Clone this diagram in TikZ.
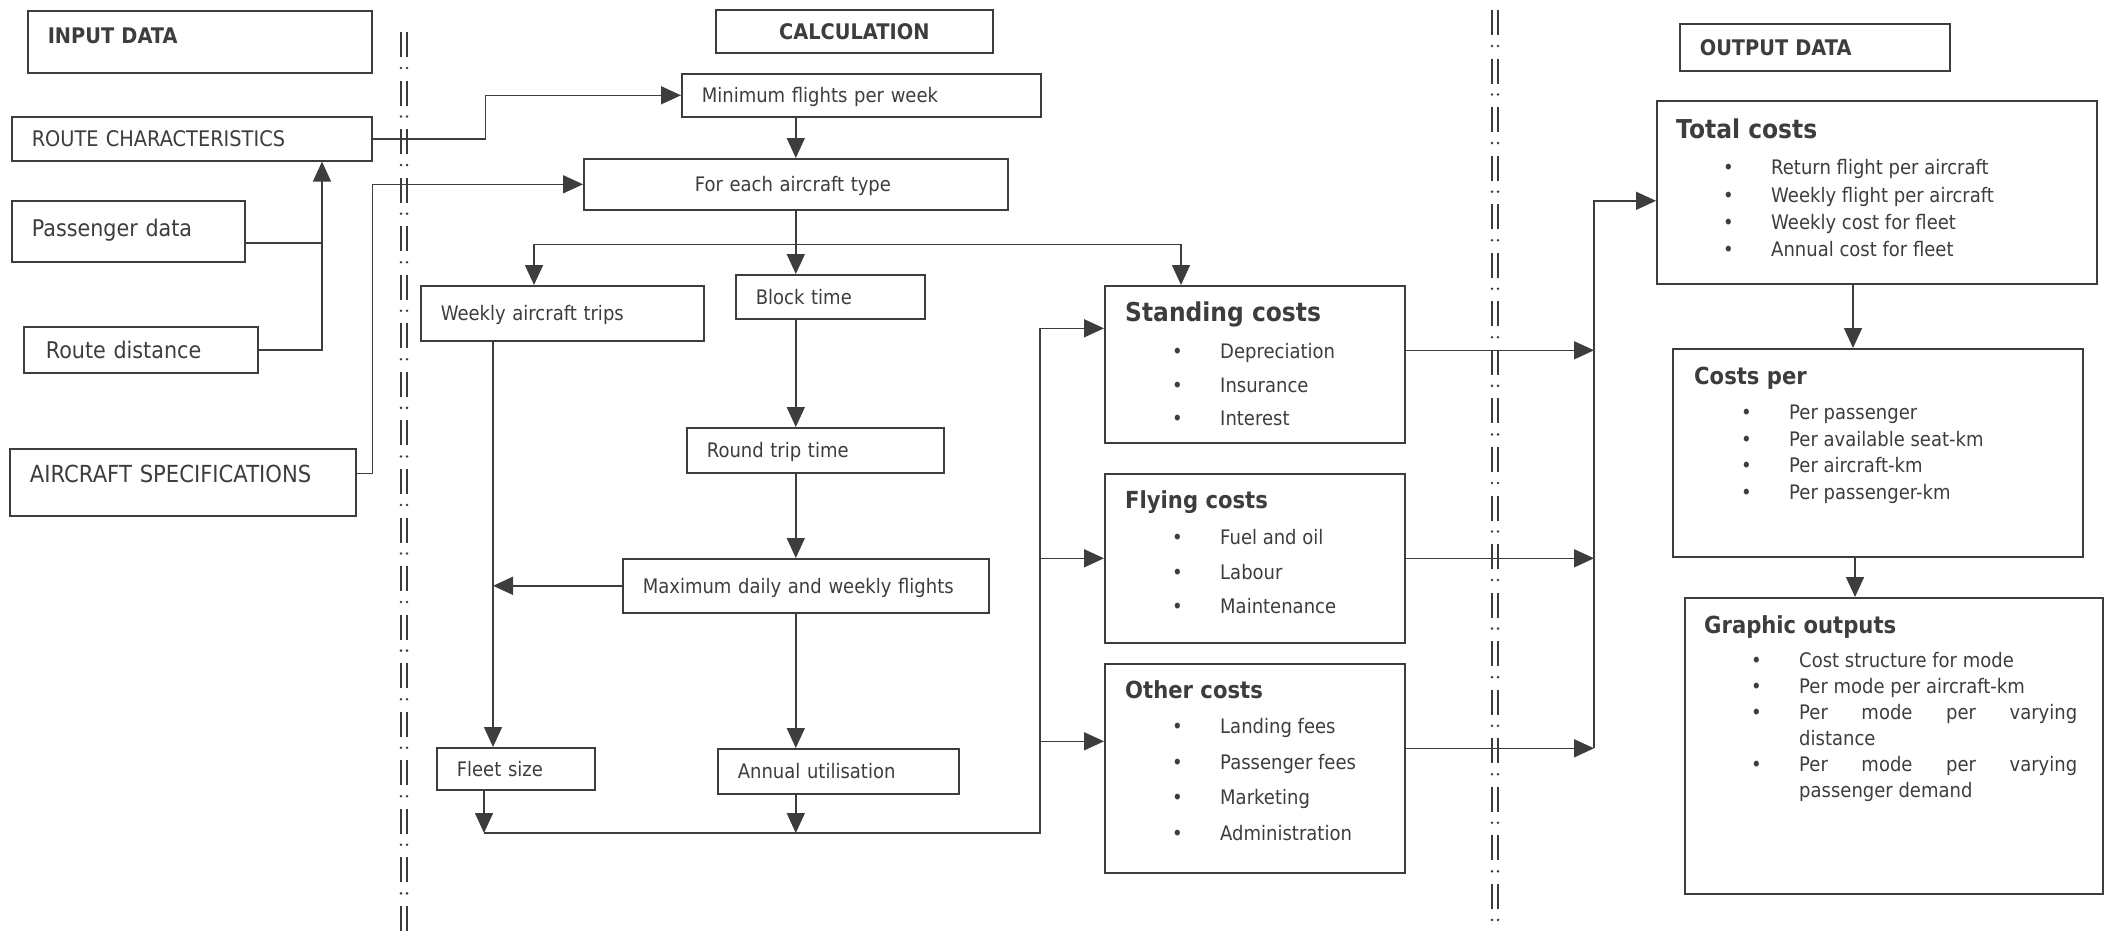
\documentclass[tikz,border=0pt]{standalone}
\usepackage{fontspec}
\setmainfont{DejaVu Sans}[FakeStretch=0.9]
\usetikzlibrary{arrows.meta}
\definecolor{ink}{gray}{0.24}
\newcommand{\fBody}{\fontsize{20}{24}\selectfont}
\newcommand{\fCaps}{\fontsize{21.5}{26}\selectfont}
\newcommand{\fBig}{\fontsize{23}{28}\selectfont}
\newcommand{\fHead}{\fontsize{21.5}{26}\selectfont\bfseries}
\newcommand{\fTitle}{\fontsize{26}{30}\selectfont\bfseries}
\newcommand{\fSub}{\fontsize{23.5}{28}\selectfont\bfseries}
\newcommand{\fList}[1]{\fontsize{20}{#1}\selectfont}
\newcommand{\itm}{\hspace*{47pt}\makebox[48pt][l]{\textbullet}}

\begin{document}
\begin{tikzpicture}[x=1pt,y=-1pt,
  box/.style={draw=ink,line width=1.6pt,anchor=north west,inner xsep=20pt,inner ysep=0pt,
    align=left,text depth=0pt,text=ink,font=\fBody},
  panel/.style={draw=ink,line width=1.6pt,anchor=north west,inner sep=0pt},
  list/.style={anchor=north west,inner sep=0pt,align=left,text=ink},
  arr/.style={draw=ink,line width=1.6pt,-{Triangle[length=20pt,width=18pt]}},
  link/.style={draw=ink,line width=1.6pt},
  bar/.style={draw=ink,line width=1.3pt}]
\useasboundingbox (0,0) rectangle (2106,932);

\foreach \k in {0,...,18}{
  \draw[bar] (401,{32+48.55*\k}) -- ++(0,25) (407,{32+48.55*\k}) -- ++(0,25);
  \draw[bar] (1492,{10+48.55*\k}) -- ++(0,25) (1498,{10+48.55*\k}) -- ++(0,25);
  \fill[ink] (1492,{46+48.55*\k}) circle[radius=1.4pt] (1498,{46+48.55*\k}) circle[radius=1.4pt];
}
\foreach \k in {0,...,17}
  \fill[ink] (401,{68+48.55*\k}) circle[radius=1.4pt] (407,{68+48.55*\k}) circle[radius=1.4pt];

\node[box,text width=304pt,minimum height=62pt,text depth=12pt,font=\fHead] (ind) at (27,10) {INPUT DATA};
\node[box,text width=320pt,minimum height=44pt,font=\fCaps] (rc) at (11,116) {ROUTE CHARACTERISTICS};
\node[box,text width=193pt,minimum height=61pt,text depth=7pt,font=\fBig] (pd) at (11,200) {Passenger data};
\node[box,text width=190pt,minimum height=46pt,inner xsep=22pt,font=\fBig] (rd) at (23,326) {Route distance};
\node[box,text width=306pt,minimum height=67pt,text depth=17pt,font=\fontsize{23.5}{28}\selectfont] (as) at (9,448) {AIRCRAFT SPECIFICATIONS};

\node[box,text width=237pt,minimum height=43pt,align=center,font=\fHead] (calc) at (715,9) {CALCULATION};
\node[box,text width=319pt,minimum height=43pt] (mf) at (681,73) {Minimum flights per week};
\node[box,text width=384pt,minimum height=51pt] (fe) at (583,158) {\hspace*{91pt}For each aircraft type};
\node[box,text width=243pt,minimum height=55pt] (wt) at (420,285) {Weekly aircraft trips};
\node[box,text width=149pt,minimum height=44pt] (bt) at (735,274) {Block time};
\node[box,text width=217pt,minimum height=45pt] (rt) at (686,427) {Round trip time};
\node[box,text width=326pt,minimum height=54pt] (md) at (622,558) {Maximum daily and weekly flights};
\node[box,text width=118pt,minimum height=42pt] (fs) at (436,747) {Fleet size};
\node[box,text width=201pt,minimum height=45pt] (au) at (717,748) {Annual utilisation};

\node[panel,minimum width=300pt,minimum height=157pt] (sc) at (1104,285) {};
\node[panel,minimum width=300pt,minimum height=169pt] (fc) at (1104,473) {};
\node[panel,minimum width=300pt,minimum height=209pt] (oc) at (1104,663) {};
\node[list,font={\fList{33.5}}] (sct) at (1125,302) {{\fTitle Standing costs}\\[3.5pt]\itm Depreciation\\\itm Insurance\\\itm Interest};
\node[list,font={\fList{34.5}}] (fct) at (1125,490) {{\fSub Flying costs}\\[2pt]\itm Fuel and oil\\\itm Labour\\\itm Maintenance};
\node[list,font={\fList{35.5}}] (oct) at (1125,680) {{\fSub Other costs}\\\itm Landing fees\\\itm Passenger fees\\\itm Marketing\\\itm Administration};

\node[box,text width=230pt,minimum height=47pt,font=\fHead] (outd) at (1679,23) {OUTPUT DATA};
\node[panel,minimum width=440pt,minimum height=183pt] (tc) at (1656,100) {};
\node[panel,minimum width=410pt,minimum height=208pt] (cp) at (1672,348) {};
\node[panel,minimum width=418pt,minimum height=296pt] (go) at (1684,597) {};
\node[list,font={\fList{27.3}}] (tct) at (1676,119) {{\fTitle Total costs}\\[8.7pt]\itm Return flight per aircraft\\\itm Weekly flight per aircraft\\\itm Weekly cost for fleet\\\itm Annual cost for fleet};
\node[list,font={\fList{26.7}}] (cpt) at (1694,367) {{\fSub Costs per}\\[8pt]\itm Per passenger\\\itm Per available seat-km\\\itm Per aircraft-km\\\itm Per passenger-km};
\node[list,font={\fList{26}}] (got) at (1704,615) {{\fSub Graphic outputs}\\[8.5pt]\itm Cost structure for mode\\\itm Per mode per aircraft-km\\\itm\makebox[278pt][s]{Per mode per varying}\\\hspace*{95pt}distance\\\itm\makebox[278pt][s]{Per mode per varying}\\\hspace*{95pt}passenger demand};

\coordinate (jn) at (322,243);
\coordinate (fk) at ([yshift=-34pt]fe.south);
\coordinate (bl) at (484,833);
\coordinate (br) at (1040,833);
\coordinate (sci) at ([yshift=36pt]sc.west);
\coordinate (oci) at ([yshift=27pt]oc.west);
\coordinate (sco) at ([yshift=14pt]sc.east);
\coordinate (oco) at ([yshift=20pt]oc.east);
\coordinate (tci) at ([yshift=-8.5pt]tc.west);

\draw[arr] (rc.east) -- ++(113,0) |- (mf.west);
\draw[arr] (pd.east |- jn) -- (jn) -- (jn |- rc.south);
\draw[link] (rd.east) -| (jn);
\draw[arr] ([yshift=9pt]as.east) -- ++(16,0) |- (fe.west);

\draw[arr] (mf.south -| fe.north) -- (fe.north);
\draw[arr] (fe.south) -- (fk) -- (fk |- bt.north);
\draw[arr] (fk) -| (534,0 |- wt.north);
\draw[arr] (fk) -| (1181,0 |- sc.north);
\draw[arr] (493,0 |- wt.south) -- (493,0 |- fs.north);
\draw[arr] (md.west) -- (493,0 |- md.west);
\draw[arr] (fk |- bt.south) -- (fk |- rt.north);
\draw[arr] (fk |- rt.south) -- (fk |- md.north);
\draw[arr] (fk |- md.south) -- (fk |- au.north);
\draw[arr] (bl |- fs.south) -- (bl);
\draw[arr] (fk |- au.south) -- (fk |- bl);
\draw[arr] (bl) -- (br) |- (sci);
\draw[arr] (br |- fc.west) -- (fc.west);
\draw[arr] (br |- oci) -- (oci);

\draw[arr] (sco) -- (1594,0 |- sco);
\draw[arr] (fc.east) -- (1594,0 |- fc.east);
\draw[arr] (oco) -- (1594,0 |- oco);
\draw[arr] (1594,0 |- oco) |- (tci);
\draw[arr] (1853,0 |- tc.south) -- (1853,0 |- cp.north);
\draw[arr] (1855,0 |- cp.south) -- (1855,0 |- go.north);
\end{tikzpicture}
\end{document}
